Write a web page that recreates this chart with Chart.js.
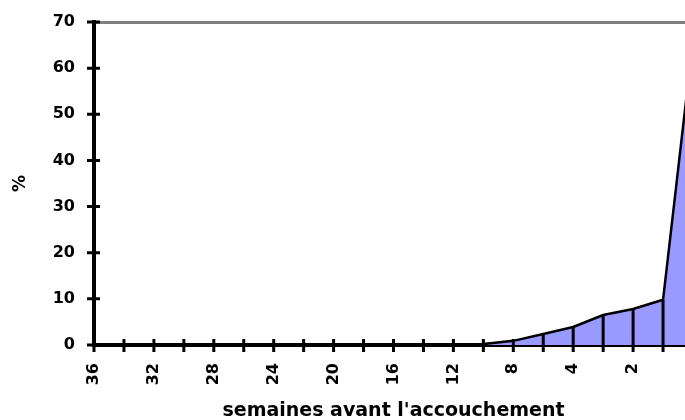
<!DOCTYPE html>
<html lang="fr">
<head>
  <meta charset="UTF-8" />
  <title>semaines avant l'accouchement</title>
  <script src="https://cdn.jsdelivr.net/npm/chart.js"></script>
  <style>
    html, body { margin: 0; padding: 0; background: #fff; overflow: hidden; }
    #wrap { width: 700px; height: 420px; }
  </style>
</head>
<body>
  <div id="wrap"><canvas id="chart" width="700" height="420"></canvas></div>

  <script>
    // semaines avant l'accouchement (catégories) et pourcentages
    const weeks = ['36', '34', '32', '30', '28', '26', '24', '22', '20', '18', '16', '14', '12', '10', '8', '6', '4', '3', '2', '1', '0'];
    const percent = [0, 0, 0, 0, 0, 0, 0, 0, 0, 0, 0, 0, 0, 0.2, 0.9, 2.4, 3.9, 6.5, 7.8, 9.8, 66];
    const yMax = 70;
    const yStep = 10;

    // traits verticaux + graduations qui traversent les axes
    const axisMarks = {
      id: 'axisMarks',
      afterDatasetsDraw(chart) {
        const { ctx, scales: { x, y } } = chart;
        const meta = chart.getDatasetMeta(0);
        ctx.save();
        ctx.strokeStyle = '#000';
        ctx.lineWidth = 3;
        ctx.beginPath();
        meta.data.forEach((pt, i) => {
          if (percent[i] > 0.5 && i < percent.length - 1) {
            ctx.moveTo(pt.x, pt.y);
            ctx.lineTo(pt.x, y.bottom);
          }
        });
        x.ticks.forEach((t, i) => {
          const px = x.getPixelForTick(i);
          ctx.moveTo(px, y.bottom - 6);
          ctx.lineTo(px, y.bottom + 7);
        });
        y.ticks.forEach((t, i) => {
          const py = y.getPixelForTick(i);
          ctx.moveTo(x.left - 7, py);
          ctx.lineTo(x.left + 6, py);
        });
        ctx.stroke();
        ctx.restore();
      }
    };

    const font = { family: 'DejaVu Sans', weight: 'bold', size: 16 };

    new Chart(document.getElementById('chart'), {
      type: 'line',
      data: {
        labels: weeks,
        datasets: [{
          data: percent,
          fill: 'origin',
          backgroundColor: '#9999ff',
          borderColor: '#000',
          borderWidth: 2.5,
          pointRadius: 0,
          tension: 0
        }]
      },
      options: {
        responsive: false,
        animation: false,
        layout: { padding: { top: 22, right: 7, left: 0, bottom: 0 } },
        plugins: { legend: { display: false }, tooltip: { enabled: false } },
        scales: {
          x: {
            offset: false,
            grid: { display: false },
            border: { color: '#000', width: 4 },
            ticks: {
              autoSkip: false,
              maxRotation: 90,
              minRotation: 90,
              padding: 10,
              color: '#000',
              font,
              callback: (v, i) => (i % 2 === 0 && i < weeks.length - 1) ? weeks[i] : ''
            },
            title: {
              display: true,
              text: "semaines avant l'accouchement",
              color: '#000',
              font: { family: 'DejaVu Sans', weight: 'bold', size: 19 },
              padding: { top: 0, bottom: -2 }
            },
            afterFit: s => { s.height = 75; s.paddingLeft = 0; s.paddingRight = 0; }
          },
          y: {
            min: 0,
            max: yMax,
            ticks: { stepSize: yStep, padding: 19, color: '#000', font },
            grid: {
              drawTicks: false,
              color: c => c.tick && c.tick.value === yMax ? '#808080' : 'rgba(0,0,0,0)',
              lineWidth: 3
            },
            border: { color: '#000', width: 4 },
            title: {
              display: true,
              text: '%',
              color: '#000',
              font: { family: 'DejaVu Sans', weight: 'bold', size: 17 },
              padding: 10
            },
            afterFit: s => { s.width = 94; s.paddingTop = 0; s.paddingBottom = 0; }
          }
        }
      },
      plugins: [axisMarks]
    });
  </script>
</body>
</html>
